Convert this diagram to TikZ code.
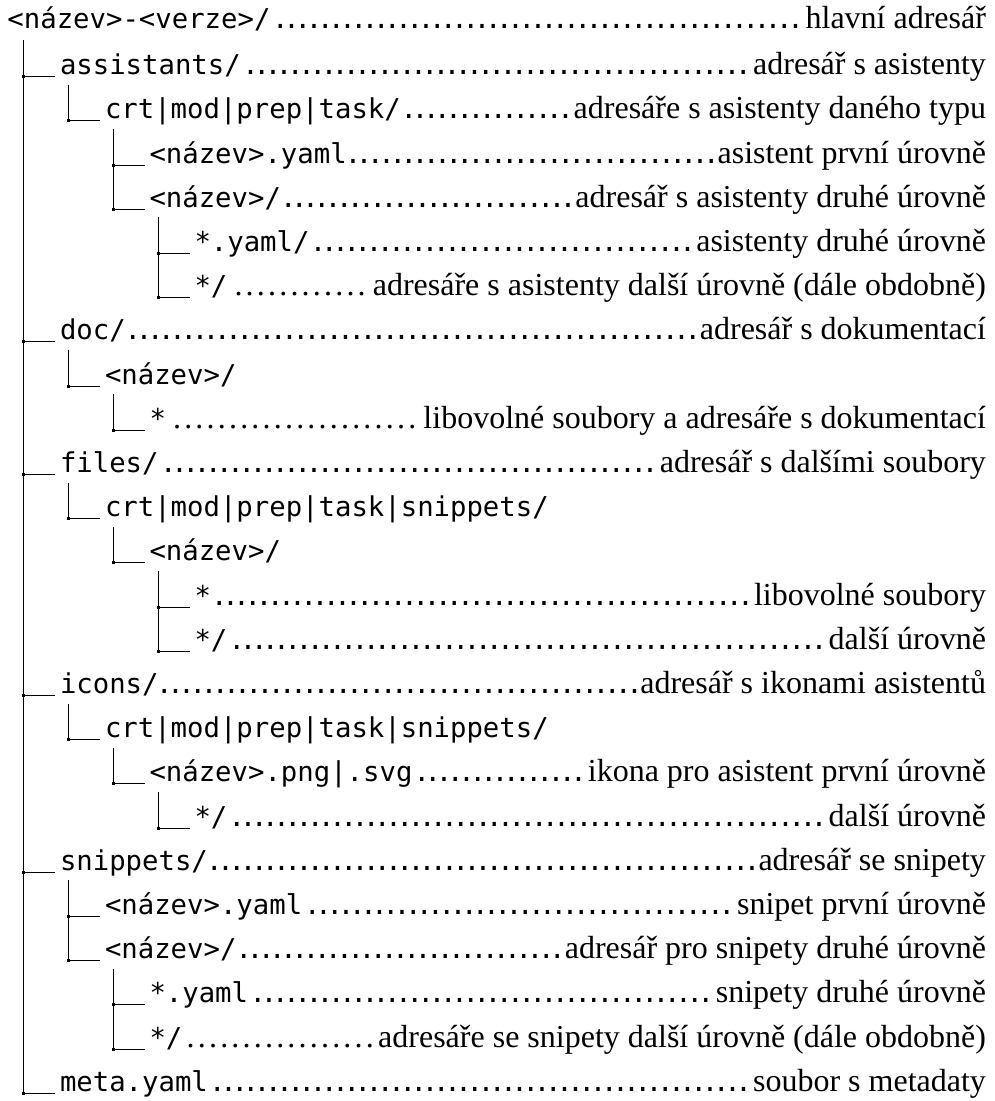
\documentclass[tikz,border=0pt]{standalone}
\usepackage{fontspec}
\setmainfont{Liberation Serif}
\newfontfamily\monof{DejaVu Sans Mono}
\newcommand\MF{\monof\fontsize{27.3}{32}\selectfont}
\newcommand\SF{\rmfamily\fontsize{32}{36}\selectfont}
\newcommand\mdots{{\MF\cleaders\hbox to 11.2pt{\hss.\hss}\hfill}}
\newcommand\sdots{{\SF\cleaders\hbox to 11.2pt{\hss.\hss}\hfill}}
% mono-dot row
\newcommand\dtrow[3]{\hbox to \dimexpr 986pt-#1pt\relax{\MF #2\mdots\SF #3}}
% serif-dot row
\newcommand\dtrowS[3]{\hbox to \dimexpr 986pt-#1pt\relax{\MF #2\sdots\SF #3}}
\newcommand\dtname[1]{{\MF #1}}
\tikzset{
  entry/.style={anchor=base west, inner sep=0pt, outer sep=0pt},
  treeline/.style={line width=1pt, black},
  branch/.style={treeline, shorten >=5pt},
}
\begin{document}
\begin{tikzpicture}[x=1pt,y=-1pt]
\useasboundingbox (0,0) rectangle (995,1101);
% rows
\node[entry] (n1)  at (7.5,28)     {\dtrow{7.5}{<název>-<verze>/}{hlavní adresář}};
\node[entry] (n2)  at (60,74.7)    {\dtrow{60}{assistants/}{adresář s asistenty}};
\node[entry] (n3)  at (105,118.9)  {\dtrow{105}{crt|mod|prep|task/}{adresáře s asistenty daného typu}};
\node[entry] (n4)  at (149.5,163.1){\dtrow{149.5}{<název>.yaml}{asistent první úrovně}};
\node[entry] (n5)  at (149.5,207.3){\dtrow{149.5}{<název>/}{adresář s asistenty druhé úrovně}};
\node[entry] (n6)  at (194.5,251.5){\dtrow{194.5}{*.yaml/}{asistenty druhé úrovně}};
\node[entry] (n7)  at (194.5,295.7){\dtrowS{194.5}{*/}{adresáře s asistenty další úrovně (dále obdobně)}};
\node[entry] (n8)  at (60,339.9)   {\dtrow{60}{doc/}{adresář s dokumentací}};
\node[entry] (n9)  at (105,384.1)  {\dtname{<název>/}};
\node[entry] (n10) at (149.5,428.3){\dtrowS{149.5}{*}{libovolné soubory a adresáře s dokumentací}};
\node[entry] (n11) at (60,472.5)   {\dtrow{60}{files/}{adresář s dalšími soubory}};
\node[entry] (n12) at (105,516.7)  {\dtname{crt|mod|prep|task|snippets/}};
\node[entry] (n13) at (149.5,560.9){\dtname{<název>/}};
\node[entry] (n14) at (194.5,605.1){\dtrow{194.5}{*}{libovolné soubory}};
\node[entry] (n15) at (194.5,649.3){\dtrow{194.5}{*/}{další úrovně}};
\node[entry] (n16) at (60,693.5)   {\dtrow{60}{icons/}{adresář s ikonami asistentů}};
\node[entry] (n17) at (105,737.7)  {\dtname{crt|mod|prep|task|snippets/}};
\node[entry] (n18) at (149.5,781.9){\dtrow{149.5}{<název>.png|.svg}{ikona pro asistent první úrovně}};
\node[entry] (n19) at (194.5,826.1){\dtrow{194.5}{*/}{další úrovně}};
\node[entry] (n20) at (60,870.3)   {\dtrow{60}{snippets/}{adresář se snipety}};
\node[entry] (n21) at (105,914.5)  {\dtrow{105}{<název>.yaml}{snipet první úrovně}};
\node[entry] (n22) at (105,958.7)  {\dtrow{105}{<název>/}{adresář pro snipety druhé úrovně}};
\node[entry] (n23) at (149.5,1002.9){\dtrow{149.5}{*.yaml}{snipety druhé úrovně}};
\node[entry] (n24) at (149.5,1047.1){\dtrowS{149.5}{*/}{adresáře se snipety další úrovně (dále obdobně)}};
\node[entry] (n25) at (60,1091.3)  {\dtrow{60}{meta.yaml}{soubor s metadaty}};
% junctions
\coordinate (j2)  at (23.3,76.7);
\coordinate (j3)  at (68.3,120.9);
\coordinate (j4)  at (113.3,165.1);
\coordinate (j5)  at (113.3,209.3);
\coordinate (j6)  at (158.3,253.5);
\coordinate (j7)  at (158.3,297.7);
\coordinate (j8)  at (23.3,341.9);
\coordinate (j9)  at (68.3,386.1);
\coordinate (j10) at (113.3,430.3);
\coordinate (j11) at (23.3,474.5);
\coordinate (j12) at (68.3,518.7);
\coordinate (j13) at (113.3,562.9);
\coordinate (j14) at (158.3,607.1);
\coordinate (j15) at (158.3,651.3);
\coordinate (j16) at (23.3,695.5);
\coordinate (j17) at (68.3,739.7);
\coordinate (j18) at (113.3,783.9);
\coordinate (j19) at (158.3,828.1);
\coordinate (j20) at (23.3,872.3);
\coordinate (j21) at (68.3,916.5);
\coordinate (j22) at (68.3,960.7);
\coordinate (j23) at (113.3,1004.9);
\coordinate (j24) at (113.3,1049.1);
\coordinate (j25) at (23.3,1093.3);
% tops of vertical lines
\coordinate (t1)  at (23.3,40);
\coordinate (t2)  at (68.3,84.7);
\coordinate (t3)  at (113.3,128.9);
\coordinate (t5)  at (158.3,217.3);
\coordinate (t8)  at (68.3,349.9);
\coordinate (t9)  at (113.3,394.1);
\coordinate (t11) at (68.3,482.5);
\coordinate (t12) at (113.3,526.7);
\coordinate (t13) at (158.3,570.9);
\coordinate (t16) at (68.3,703.5);
\coordinate (t17) at (113.3,747.7);
\coordinate (t18) at (158.3,791.9);
\coordinate (t20) at (68.3,880.3);
\coordinate (t22) at (113.3,968.7);
% verticals
\draw[treeline] (t1) -- (j25);
\draw[treeline] (t2) -- (j3);
\draw[treeline] (t3) -- (j5);
\draw[treeline] (t5) -- (j7);
\draw[treeline] (t8) -- (j9);
\draw[treeline] (t9) -- (j10);
\draw[treeline] (t11) -- (j12);
\draw[treeline] (t12) -- (j13);
\draw[treeline] (t13) -- (j15);
\draw[treeline] (t16) -- (j17);
\draw[treeline] (t17) -- (j18);
\draw[treeline] (t18) -- (j19);
\draw[treeline] (t20) -- (j22);
\draw[treeline] (t22) -- (j24);
% branches
\foreach \i in {2,...,25} {
  \draw[branch] (j\i) -- (j\i -| n\i.base west);
  \fill (j\i) +(-1.5,-1.5) rectangle +(1.5,1.5);
}
\end{tikzpicture}
\end{document}
